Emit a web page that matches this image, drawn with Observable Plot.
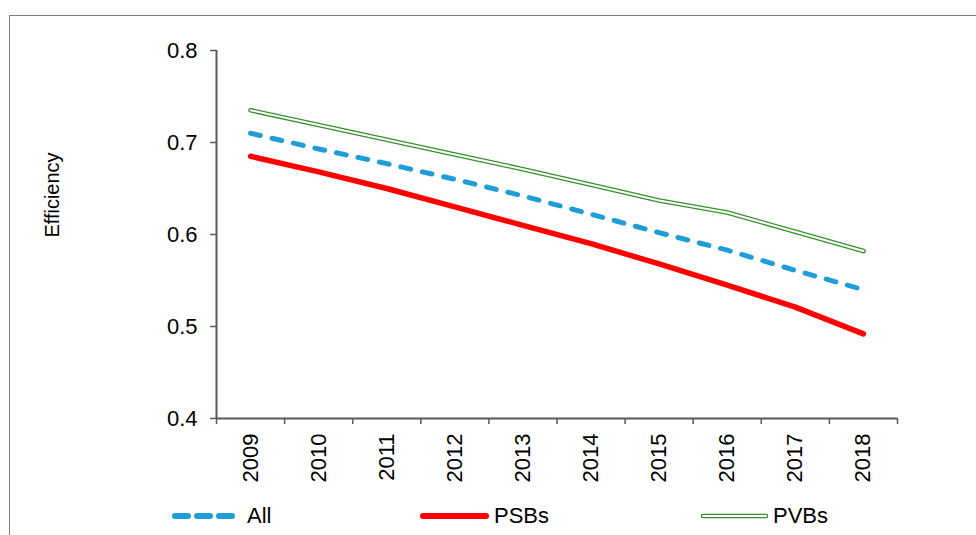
<!DOCTYPE html>
<html><head><meta charset="utf-8">
<script src="https://cdn.jsdelivr.net/npm/d3@7"></script>
<script src="https://cdn.jsdelivr.net/npm/@observablehq/plot@0.6"></script>
<style>
html,body{margin:0;padding:0;background:#fff;overflow:hidden;}
#wrap{position:relative;width:976px;height:535px;font-family:"Liberation Sans",Arial,sans-serif;}
#border{position:absolute;left:9px;top:15px;width:1200px;height:800px;border-left:1.5px solid #808080;border-top:1.5px solid #808080;}
#chart{position:absolute;left:0;top:0;}
#ylabel{position:absolute;left:52px;top:195px;transform:translate(-50%,-50%) rotate(-90deg);font-size:20px;white-space:nowrap;color:#000;}
#legend{position:absolute;left:0;top:500px;width:976px;height:35px;}
.sw{position:absolute;top:8px;display:block;}
.lt{position:absolute;top:0;height:32px;line-height:32px;font-size:22px;color:#000;white-space:nowrap;}
</style></head><body>
<div id="wrap"><div id="border"></div><div id="chart"></div><div id="ylabel">Efficiency</div><div id="legend"></div></div>
<script>
const years = [2009, 2010, 2011, 2012, 2013, 2014, 2015, 2016, 2017, 2018];
const allBanks = [0.710, 0.693, 0.677, 0.660, 0.642, 0.622, 0.602, 0.583, 0.561, 0.540];
const psbs = [0.685, 0.668, 0.650, 0.630, 0.610, 0.590, 0.568, 0.545, 0.521, 0.492];
const pvbs = [0.735, 0.719, 0.703, 0.687, 0.671, 0.654, 0.637, 0.624, 0.603, 0.582];
const yTicks = [0.4, 0.5, 0.6, 0.7, 0.8];
const seriesNames = ["All", "PSBs", "PVBs"];

const rows = years.map((yr, i) => ({year: yr, all: allBanks[i], psbs: psbs[i], pvbs: pvbs[i]}));
const boundaries = d3.range(years[0] - 0.5, years[years.length - 1] + 1, 1);
const axisColor = "#595959";

const chart = Plot.plot({
  width: 976,
  height: 500,
  marginLeft: 216,
  marginRight: 79,
  marginTop: 50,
  marginBottom: 82,
  style: {background: "none", fontFamily: "'Liberation Sans', Arial, sans-serif", fontSize: "22px", color: "#000"},
  x: {domain: [years[0] - 0.5, years[years.length - 1] + 0.5]},
  y: {domain: [yTicks[0], yTicks[yTicks.length - 1]]},
  marks: [
    Plot.axisY({ticks: yTicks, tickFormat: d3.format(".1f"), tickSize: 6, tickPadding: 13, stroke: axisColor, strokeWidth: 1.5, label: null, fontSize: 22}),
    Plot.axisX({ticks: boundaries, tickFormat: () => "", tickSize: 6, stroke: axisColor, strokeWidth: 1.5, label: null}),
    Plot.axisX({ticks: years, tickFormat: d => String(d), tickSize: 0, tickPadding: 15, tickRotate: -90, label: null, fontSize: 22}),
    Plot.ruleY([yTicks[0]], {stroke: axisColor, strokeWidth: 2}),
    Plot.ruleX([years[0] - 0.5], {stroke: axisColor, strokeWidth: 2}),
    Plot.line(rows, {x: "year", y: "pvbs", stroke: "#3a8e2f", strokeWidth: 4.6, strokeLinecap: "round", strokeLinejoin: "round"}),
    Plot.line(rows, {x: "year", y: "pvbs", stroke: "#ffffff", strokeWidth: 2, strokeLinecap: "round", strokeLinejoin: "round"}),
    Plot.line(rows, {x: "year", y: "all", stroke: "#1e9dd8", strokeWidth: 5, strokeDasharray: "10,12", strokeLinecap: "round"}),
    Plot.line(rows, {x: "year", y: "psbs", stroke: "#ff0000", strokeWidth: 5.5, strokeLinecap: "round", strokeLinejoin: "round"})
  ]
});
document.getElementById("chart").appendChild(chart);

// Legend
const legend = d3.select("#legend");
const legendItems = [
  {name: seriesNames[0], left: 169, w: 68, textLeft: 247, draw: s => s.append("line").attr("x1", 6).attr("x2", 63).attr("y1", 8).attr("y2", 8).attr("stroke", "#1e9dd8").attr("stroke-width", 6).attr("stroke-dasharray", "13,9").attr("stroke-linecap", "round")},
  {name: seriesNames[1], left: 417, w: 76, textLeft: 494, draw: s => s.append("line").attr("x1", 6).attr("x2", 69).attr("y1", 8).attr("y2", 8).attr("stroke", "#ff0000").attr("stroke-width", 6).attr("stroke-linecap", "round")},
  {name: seriesNames[2], left: 698, w: 74, textLeft: 773, draw: s => {
    s.append("line").attr("x1", 5).attr("x2", 68).attr("y1", 8).attr("y2", 8).attr("stroke", "#3a8e2f").attr("stroke-width", 4.6).attr("stroke-linecap", "round");
    s.append("line").attr("x1", 5).attr("x2", 68).attr("y1", 8).attr("y2", 8).attr("stroke", "#fff").attr("stroke-width", 2).attr("stroke-linecap", "round");
  }}
];
legendItems.forEach(it => {
  const s = legend.append("svg").attr("class", "sw").attr("width", it.w).attr("height", 16).style("left", it.left + "px");
  it.draw(s);
  legend.append("div").attr("class", "lt").style("left", it.textLeft + "px").text(it.name);
});
</script>
</body></html>
